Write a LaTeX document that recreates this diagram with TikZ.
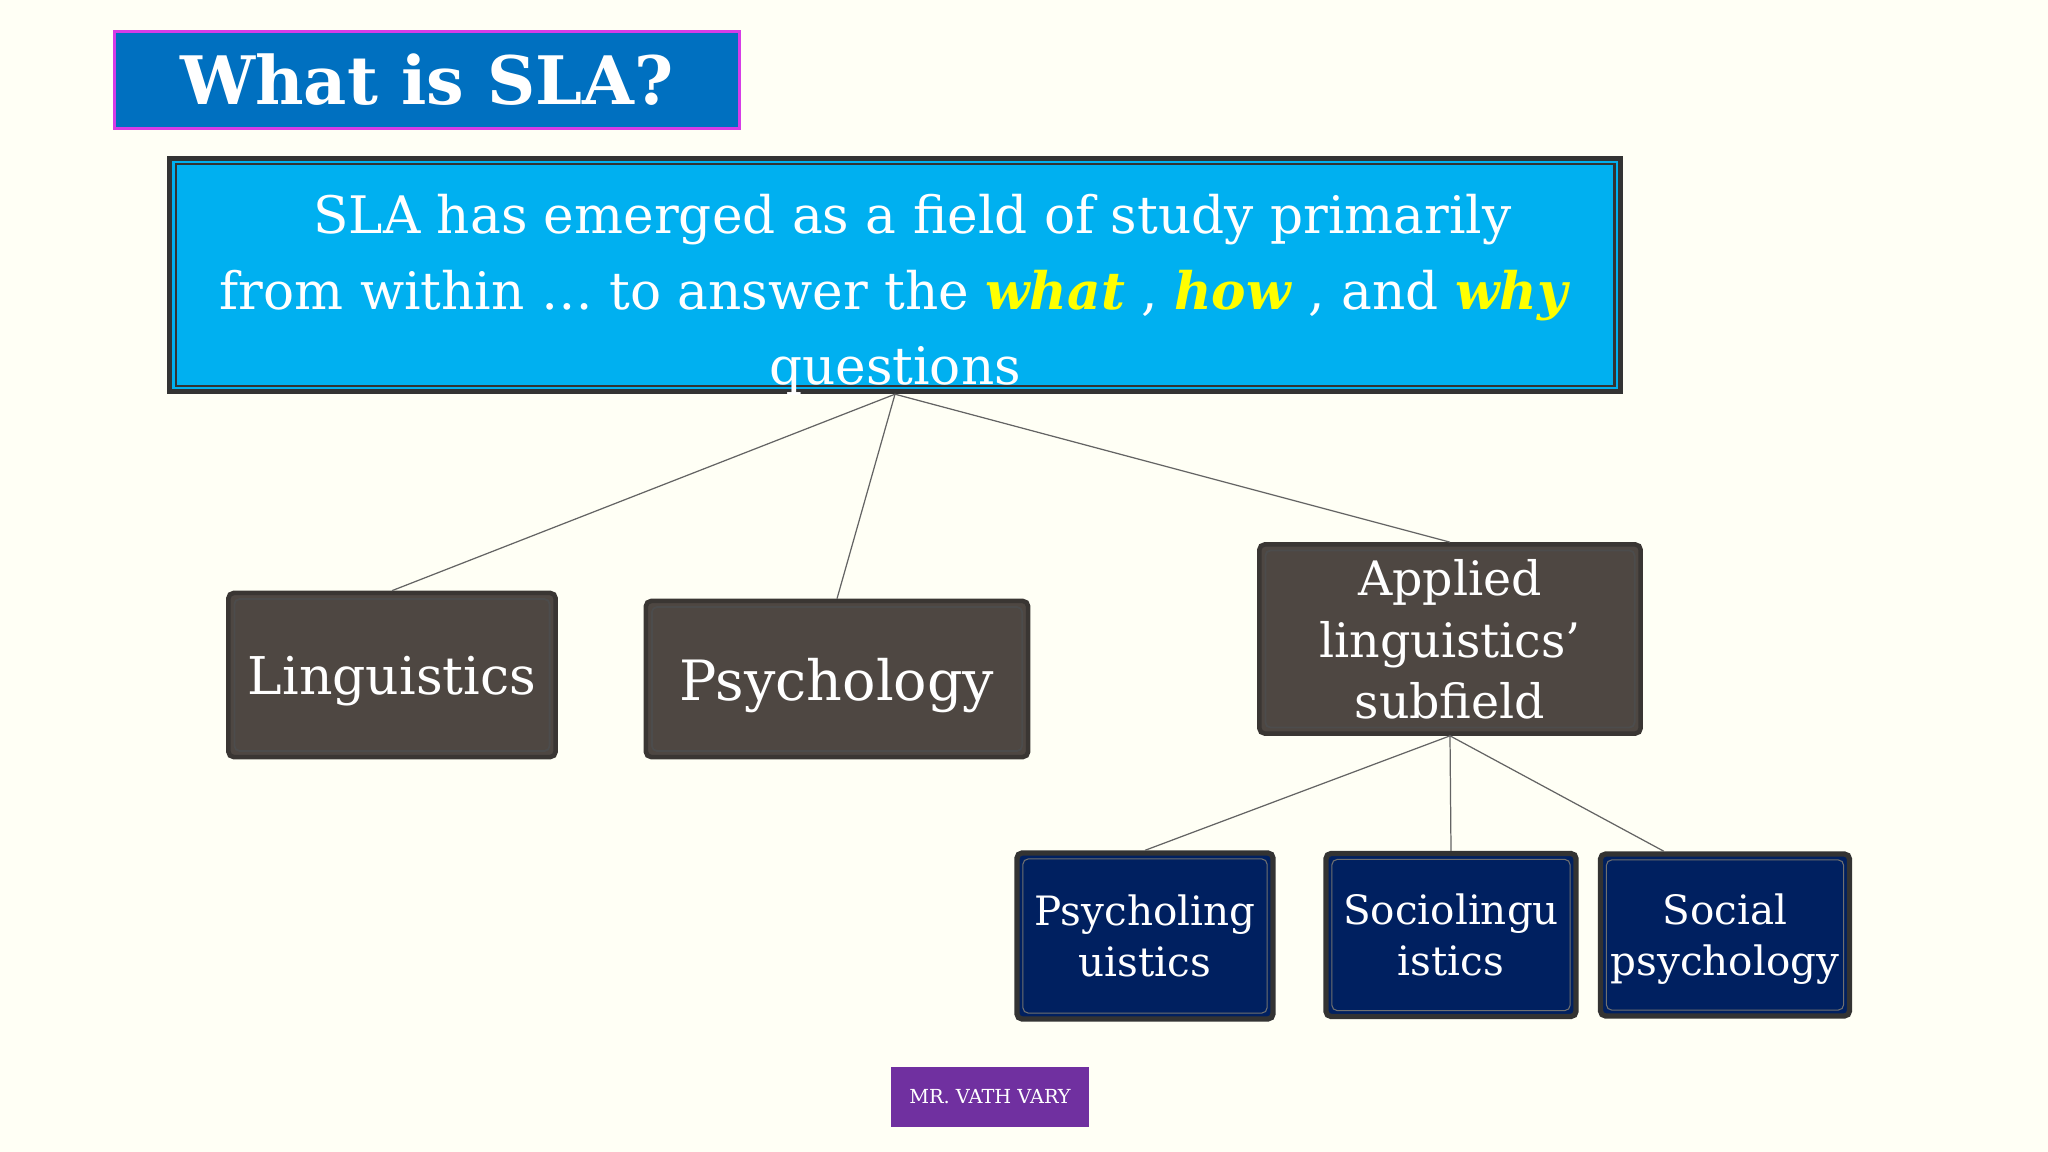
\documentclass[tikz,border=0pt]{standalone}
\usepackage{fontspec}
\setmainfont{DejaVu Serif}
\usepackage{tikz}
\usetikzlibrary{positioning,calc}

\definecolor{slidebg}{RGB}{255,255,245}
\definecolor{titleblue}{RGB}{0,112,192}
\definecolor{titleedge}{RGB}{214,60,230}
\definecolor{skyfill}{RGB}{0,176,240}
\definecolor{edgegray}{RGB}{51,51,51}
\definecolor{taupe}{RGB}{78,71,66}
\definecolor{taupeedge}{RGB}{58,54,51}
\definecolor{navyfill}{RGB}{0,32,96}
\definecolor{footpurple}{RGB}{112,48,160}
\definecolor{wordyellow}{RGB}{255,255,0}
\definecolor{linkgray}{RGB}{100,100,100}

\newcommand{\fs}[2]{\fontsize{#1}{#2}\selectfont}
\newcommand{\hl}[1]{\textcolor{wordyellow}{\textbf{\textit{#1}}}}

\tikzset{
  inset/.style={path picture={\draw[#1] ([shift={(1.7pt,-1.7pt)}]path picture bounding box.north west) rectangle ([shift={(-1.7pt,1.7pt)}]path picture bounding box.south east);}},
  headbox/.style={fill=titleblue, draw=titleedge, line width=0.8pt, minimum width=6.24cm, minimum height=0.97cm, text=white, font=\fs{19pt}{22pt}\bfseries},
  mainbox/.style={fill=skyfill, draw=edgegray, line width=1.5pt, inset={edgegray, line width=0.6pt}, minimum width=14.5cm, minimum height=2.33cm},
  fieldbox/.style={fill=taupe, draw=taupeedge, line width=1.3pt, rounded corners=1.5pt, inset={black!70, line width=0.5pt}, text=white, align=center, inner sep=0pt, text depth=0pt},
  subbox/.style={fill=navyfill, draw=edgegray, line width=1.5pt, rounded corners=1.5pt, inset={edgegray!70, line width=0.3pt}, text=white, align=center, inner sep=0pt, text depth=0pt, font=\fs{11.5pt}{14.5pt}},
  link/.style={draw=linkgray, line width=0.35pt},
}

\begin{document}
\begin{tikzpicture}[x=0.01cm, y=-0.01cm]
        % Slide
        \fill[slidebg] (0,0) rectangle (2048,1152);

        % Title
        \node[headbox] (title) at (427,80) {What is SLA?};

        % Main statement
        \node[mainbox] (main) at (895,275) {};
        \node[text=white, align=center, font=\fs{14.7pt}{21.5pt}] (slatext) at (895,295)
            {\hspace*{0.35cm}SLA has emerged as a field of study primarily\\
             from within \dots\ to answer the \hl{what} , \hl{how} , and \hl{why}\\
             questions};

        % Fields
        \node[fieldbox, minimum width=3.27cm, minimum height=1.64cm, font=\fs{14.8pt}{17pt}] (ling) at (392,675) {Linguistics};
        \node[fieldbox, minimum width=3.82cm, minimum height=1.56cm, font=\fs{15.8pt}{18pt}] (psy) at (837,679) {Psychology};
        \node[fieldbox, minimum width=3.81cm, minimum height=1.89cm, font=\fs{13.5pt}{17.4pt}] (applied) at (1450,639) {Applied\\linguistics’\\subfield};

        % Subfields
        \node[subbox, minimum width=2.56cm, minimum height=1.66cm] (psyling) at (1145,936) {Psycholing\\uistics};
        \node[subbox, minimum width=2.50cm, minimum height=1.63cm] (socling) at (1451,935) {Sociolingu\\istics};
        \node[subbox, minimum width=2.49cm, minimum height=1.62cm] (socpsy) at (1725,935) {Social\\psychology};
        \coordinate (socpsytop) at ($(socpsy.north west)!0.26!(socpsy.north east)$);

        % Connectors
        \draw[link] (main.south) -- (ling.north);
        \draw[link] (main.south) -- (psy.north);
        \draw[link] (main.south) -- (applied.north);
        \draw[link] (applied.south) -- (psyling.north);
        \draw[link] (applied.south) -- (socling.north);
        \draw[link] (applied.south) -- (socpsytop);

        % Footer
        \node[fill=footpurple, text=white, minimum width=1.97cm, minimum height=0.59cm, font=\fs{5.5pt}{6pt}] (credit) at (990,1097) {MR. VATH VARY};
    \end{tikzpicture}
\end{document}
